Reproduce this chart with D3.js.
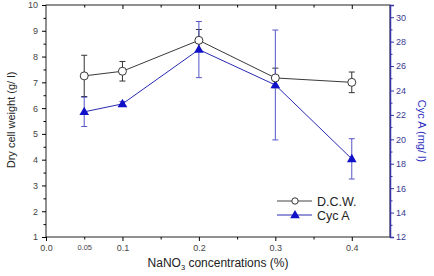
<!DOCTYPE html>
<html lang="en">
  <head>
    <meta charset="utf-8">
    <title>DCW and Cyc A</title>
    <script type="text/javascript" src="https://cdn.jsdelivr.net/npm/d3@7"></script>
    <style>
      body { margin: 0; background: #fff; }
      svg { font-family: "Liberation Sans", Arial, sans-serif; }
      .tick text { font-size: 9px; fill: #444; }
    </style>
  </head>
  <body>
    <script type="text/javascript">

    //Data
    var concentrations = [0.05, 0.1, 0.2, 0.3, 0.4];
    var dcw = [7.25, 7.43, 8.63, 7.17, 7.0];
    var dcwErr = [0.8, 0.38, 0.42, 0.38, 0.4];
    var cycA = [22.25, 22.9, 27.35, 24.45, 18.4];
    var cycErr = [1.2, 0.2, 2.3, 4.5, 1.65];
    var xTickValues = [0, 0.05, 0.1, 0.2, 0.3, 0.4];
    var xTickLabels = ["0.0", "0.05", "0.1", "0.2", "0.3", "0.4"];
    var seriesNames = ["D.C.W.", "Cyc A"];

    //Plot area (window.top is reserved, so prefixed names)
    var w = 434, h = 276;
    var pLeft = 46, pRight = 390, pTop = 5, pBottom = 237;
    var blue = "#2a2ab4";
    var blueAxis = "#3535a8";

    var svg = d3.select("body").append("svg")
      .attr("width", w)
      .attr("height", h);

    //Scales
    var x = d3.scaleLinear().domain([0, 0.45]).range([pLeft, pRight]);
    var yL = d3.scaleLinear().domain([1, 10]).range([pBottom, pTop]);
    var yR = d3.scaleLinear().domain([12, 31]).range([pBottom, pTop]);

    //Frame
    svg.append("rect")
      .attr("x", pLeft).attr("y", pTop)
      .attr("width", pRight - pLeft).attr("height", pBottom - pTop)
      .attr("fill", "none").attr("stroke", "#222").attr("stroke-width", 1);

    //Bottom axis
    var xAxis = d3.axisBottom(x)
      .tickValues(xTickValues)
      .tickFormat(function(d, i) { return xTickLabels[i]; })
      .tickSize(4).tickPadding(4);
    var gx = svg.append("g")
      .attr("transform", "translate(0," + pBottom + ")")
      .call(xAxis);
    gx.select(".domain").remove();
    gx.selectAll(".tick text").filter(function(d) { return d === 0.05; })
      .style("font-size", "7.5px");
    gx.selectAll(".tick line").filter(function(d) { return d === 0.05; }).attr("y2", 2.5);
    svg.append("g")
      .attr("transform", "translate(0," + pBottom + ")")
      .call(d3.axisBottom(x).tickValues([0.15, 0.25, 0.35]).tickSize(2.5).tickFormat(""))
      .select(".domain").remove();

    //Top axis (ticks only)
    var gt = svg.append("g")
      .attr("transform", "translate(0," + pTop + ")")
      .call(d3.axisBottom(x).tickValues([0.1, 0.2, 0.3, 0.4]).tickSize(4).tickFormat(""));
    gt.select(".domain").remove();
    svg.append("g")
      .attr("transform", "translate(0," + pTop + ")")
      .call(d3.axisBottom(x).tickValues([0.05, 0.15, 0.25, 0.35]).tickSize(2.5).tickFormat(""))
      .select(".domain").remove();

    //Left axis
    var gl = svg.append("g")
      .attr("transform", "translate(" + pLeft + ",0)")
      .call(d3.axisLeft(yL).ticks(10).tickSize(4).tickPadding(4));
    gl.select(".domain").remove();
    svg.append("g")
      .attr("transform", "translate(" + pLeft + ",0)")
      .call(d3.axisLeft(yL).tickValues(d3.range(1.5, 10, 1)).tickSize(2.5).tickFormat(""))
      .select(".domain").remove();

    //Right axis
    var gr = svg.append("g")
      .attr("transform", "translate(" + pRight + ",0)")
      .call(d3.axisRight(yR).tickValues(d3.range(12, 31, 2)).tickSize(4).tickPadding(2));
    gr.select(".domain").attr("stroke", blueAxis).attr("stroke-width", 1.5);
    gr.selectAll(".tick line").attr("stroke", blueAxis);
    gr.selectAll(".tick text").style("fill", "#3a3a90");
    var grm = svg.append("g")
      .attr("transform", "translate(" + pRight + ",0)")
      .call(d3.axisRight(yR).tickValues(d3.range(13, 31, 2)).tickSize(2.5).tickFormat(""));
    grm.select(".domain").remove();
    grm.selectAll(".tick line").attr("stroke", blueAxis);

    //Axis titles
    svg.append("text")
      .attr("transform", "translate(15,120) rotate(-90)")
      .attr("text-anchor", "middle")
      .style("font-size", "11px").attr("fill", "#222")
      .text("Dry cell weight (g/ l)");
    svg.append("text")
      .attr("transform", "translate(418,131) rotate(90)")
      .attr("text-anchor", "middle")
      .style("font-size", "11px").attr("fill", "#2e2ec0")
      .text("Cyc A (mg/ l)");
    var xt = svg.append("text")
      .attr("x", 218).attr("y", 267)
      .attr("text-anchor", "middle")
      .style("font-size", "12px").attr("fill", "#222");
    xt.append("tspan").text("NaNO");
    xt.append("tspan").attr("dy", 3).style("font-size", "7.5px").text("3");
    xt.append("tspan").attr("dy", -3).text(" concentrations (%)");

    //Error bars helper
    function errorBars(vals, errs, scale, color) {
      var g = svg.append("g").attr("stroke", color).attr("stroke-width", 1);
      concentrations.forEach(function(c, i) {
        var cx = x(c), y1 = scale(vals[i] - errs[i]), y2 = scale(vals[i] + errs[i]);
        g.append("line").attr("x1", cx).attr("x2", cx).attr("y1", y1).attr("y2", y2);
        g.append("line").attr("x1", cx - 3).attr("x2", cx + 3).attr("y1", y1).attr("y2", y1);
        g.append("line").attr("x1", cx - 3).attr("x2", cx + 3).attr("y1", y2).attr("y2", y2);
      });
    }

    errorBars(dcw, dcwErr, yL, "#333");
    errorBars(cycA, cycErr, yR, "#5555c8");

    //Lines
    var dcwLine = d3.line()
      .x(function(d, i) { return x(concentrations[i]); })
      .y(function(d) { return yL(d); });
    var cycLine = d3.line()
      .x(function(d, i) { return x(concentrations[i]); })
      .y(function(d) { return yR(d); });

    svg.append("path").datum(dcw)
      .attr("d", dcwLine).attr("fill", "none").attr("stroke", "#222").attr("stroke-width", 0.9);
    svg.append("path").datum(cycA)
      .attr("d", cycLine).attr("fill", "none").attr("stroke", blue).attr("stroke-width", 1);

    //Markers
    var tri = d3.symbol().type(d3.symbolTriangle).size(40);
    svg.selectAll(".tri").data(cycA).enter().append("path")
      .attr("class", "tri")
      .attr("d", tri)
      .attr("transform", function(d, i) { return "translate(" + x(concentrations[i]) + "," + (yR(d) + 0.5) + ")"; })
      .attr("fill", "#1010c8");
    svg.selectAll(".circ").data(dcw).enter().append("circle")
      .attr("class", "circ")
      .attr("cx", function(d, i) { return x(concentrations[i]); })
      .attr("cy", function(d) { return yL(d); })
      .attr("r", 4)
      .attr("fill", "#fff").attr("stroke", "#222").attr("stroke-width", 0.9);

    //Legend
    var lg = svg.append("g");
    var lx1 = 277, lx2 = 312, lsym = 295;
    [201, 215].forEach(function(ly, i) {
      lg.append("line").attr("x1", lx1).attr("x2", lx2).attr("y1", ly).attr("y2", ly)
        .attr("stroke", i === 0 ? "#444" : blue).attr("stroke-width", 1);
      if (i === 0) {
        lg.append("circle").attr("cx", lsym).attr("cy", ly).attr("r", 3.2)
          .attr("fill", "#fff").attr("stroke", "#333");
      } else {
        lg.append("path").attr("d", tri).attr("transform", "translate(" + lsym + "," + (ly + 0.5) + ")")
          .attr("fill", "#1010c8");
      }
      lg.append("text").attr("x", 317).attr("y", ly + 4.5)
        .style("font-size", "12.5px").attr("fill", "#222")
        .text(seriesNames[i]);
    });

    </script>
  </body>
</html>
